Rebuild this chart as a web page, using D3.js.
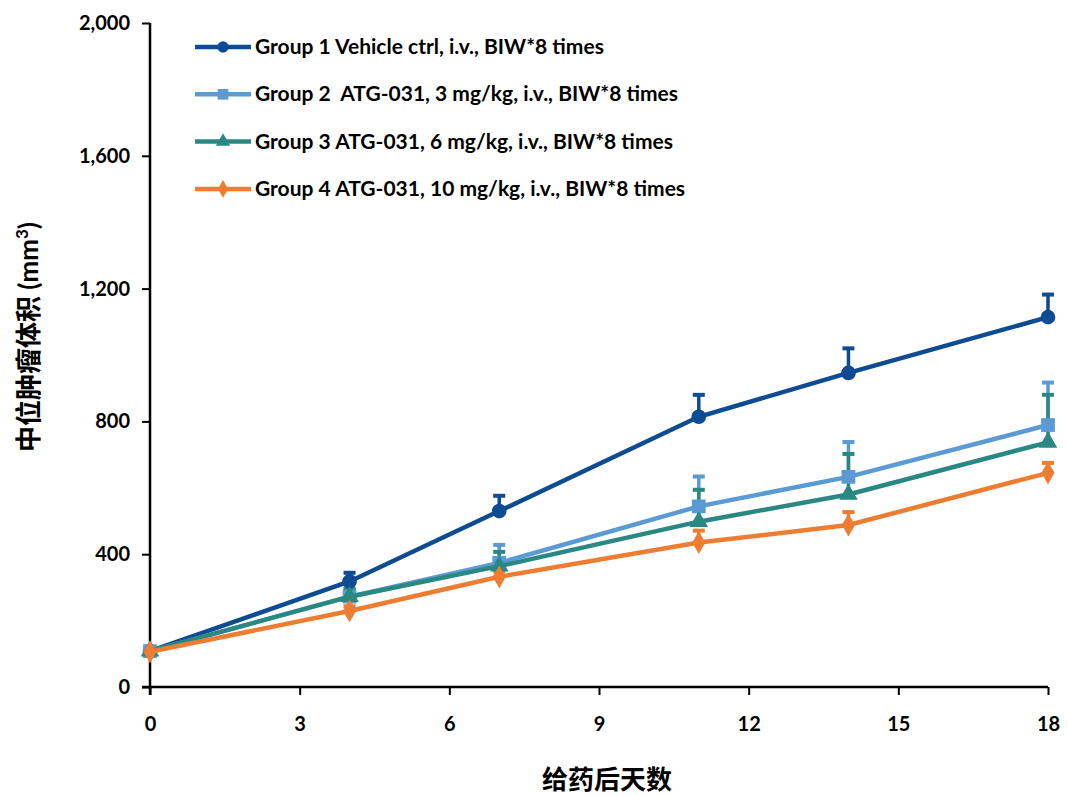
<!DOCTYPE html>
<html>
<head>
<meta charset="utf-8">
<script src="https://cdn.jsdelivr.net/npm/d3@7"></script>
<style>
  body { margin: 0; background: #fff; }
  text { font-family: Lato, "Open Sans", "Noto Sans CJK SC", sans-serif; font-weight: bold; }
</style>
</head>
<body>
<div id="chart"></div>
<script>
const width = 1068;
const height = 796;
const margin = {top: 23, right: 20, bottom: 109, left: 150};
const xMax = 1048 - margin.left;
const yMax = height - margin.top - margin.bottom;

// data
const days = [0, 4, 7, 11, 14, 18];
const groupNames = [
    "Group 1 Vehicle ctrl, i.v., BIW*8 times",
    "Group 2  ATG-031, 3 mg/kg, i.v., BIW*8 times",
    "Group 3 ATG-031, 6 mg/kg, i.v., BIW*8 times",
    "Group 4 ATG-031, 10 mg/kg, i.v., BIW*8 times"
];
const g1 = [108, 318, 530, 814, 946, 1114];
const g2 = [108, 272, 374, 544, 633, 789];
const g3 = [108, 272, 364, 498, 580, 737];
const g4 = [106, 229, 332, 435, 488, 645];
const g1Err = [8, 26, 46, 66, 74, 68];
const g2Err = [6, 24, 54, 90, 105, 128];
const g3Err = [6, 22, 43, 96, 122, 143];
const g4Err = [4, 14, 16, 36, 39, 30];
const xTicks = [0, 3, 6, 9, 12, 15, 18];
const yTicks = [0, 400, 800, 1200, 1600, 2000];

const colors = ["#0d4c92", "#5b9bd5", "#2a8882", "#ee7d31"];
const symbols = [d3.symbolCircle, d3.symbolSquare, d3.symbolTriangle, d3.symbolDiamond];
const symSizes = [170, 190, 150, 150];

const groups = [g1, g2, g3, g4].map((vals, i) => ({
    name: groupNames[i],
    color: colors[i],
    symbol: symbols[i],
    size: symSizes[i],
    err: [g1Err, g2Err, g3Err, g4Err][i],
    values: vals.map((v, j) => ({day: days[j], v: v}))
}));

const svg = d3.select("#chart").append("svg")
    .attr("width", width)
    .attr("height", height);

const g = svg.append("g").attr("transform", "translate(" + margin.left + "," + margin.top + ")");

const xScale = d3.scaleLinear().domain([0, 18]).range([0, xMax]);
const yScale = d3.scaleLinear().domain([0, 2000]).range([yMax, 0]);

// Y axis
const yAxis = g.append("g")
    .call(d3.axisLeft(yScale).tickValues(yTicks).tickFormat(d3.format(",")).tickSize(8).tickPadding(12));
yAxis.select(".domain").attr("d", "M0,0V" + (yMax + 8)).attr("stroke-width", 2.5);
yAxis.selectAll(".tick line").attr("stroke-width", 2);
yAxis.selectAll(".tick text").attr("font-size", 20).attr("fill", "#000");

// X axis
const xAxis = g.append("g")
    .attr("transform", "translate(0," + yMax + ")")
    .call(d3.axisBottom(xScale).tickValues(xTicks).tickSize(8).tickPadding(22));
xAxis.select(".domain").attr("d", "M-8,0H" + xMax).attr("stroke-width", 2.5);
xAxis.selectAll(".tick line").attr("stroke-width", 2);
xAxis.selectAll(".tick text").attr("font-size", 20).attr("fill", "#000");

// Axis titles
svg.append("text")
    .attr("x", 607)
    .attr("y", 789)
    .attr("text-anchor", "middle")
    .attr("font-size", 26)
    .text("给药后天数");

const yTitle = svg.append("text")
    .attr("transform", "translate(38,337) rotate(-90)")
    .attr("text-anchor", "middle")
    .attr("font-size", 26);
yTitle.append("tspan").text("中位肿瘤体积 (mm");
yTitle.append("tspan").attr("font-size", 17).attr("dy", -10).text("3");
yTitle.append("tspan").attr("dy", 10).text(")");

const line = d3.line().x(d => xScale(d.day)).y(d => yScale(d.v));

groups.forEach(grp => {
    const s = g.append("g");
    // error bars (upper only)
    grp.values.forEach((d, j) => {
        const x = xScale(d.day);
        const yTop = yScale(d.v + grp.err[j]);
        s.append("line")
            .attr("x1", x).attr("x2", x)
            .attr("y1", yScale(d.v)).attr("y2", yTop)
            .attr("stroke", grp.color).attr("stroke-width", 3.5);
        s.append("line")
            .attr("x1", x - 6).attr("x2", x + 6)
            .attr("y1", yTop).attr("y2", yTop)
            .attr("stroke", grp.color).attr("stroke-width", 4);
    });
});

groups.forEach(grp => {
    g.append("path")
        .datum(grp.values)
        .attr("fill", "none")
        .attr("stroke", grp.color)
        .attr("stroke-width", 4.5)
        .attr("d", line);

    g.append("g")
        .selectAll("path")
        .data(grp.values).enter()
        .append("path")
        .attr("transform", d => "translate(" + xScale(d.day) + "," + yScale(d.v) + ")")
        .attr("d", d3.symbol().type(grp.symbol).size(grp.size))
        .attr("fill", grp.color);
});

// Legend
const legend = svg.append("g").attr("transform", "translate(195,47)");
groups.forEach((grp, i) => {
    const row = legend.append("g").attr("transform", "translate(0," + (i * 47.3) + ")");
    row.append("line")
        .attr("x1", 0).attr("x2", 56)
        .attr("stroke", grp.color).attr("stroke-width", 4.5);
    row.append("path")
        .attr("transform", "translate(28,0)")
        .attr("d", d3.symbol().type(grp.symbol).size(grp.size * 0.6))
        .attr("fill", grp.color);
    row.append("text")
        .attr("x", 60)
        .attr("y", 7)
        .attr("font-size", 21)
        .style("white-space", "pre")
        .text(grp.name);
});
</script>
</body>
</html>
